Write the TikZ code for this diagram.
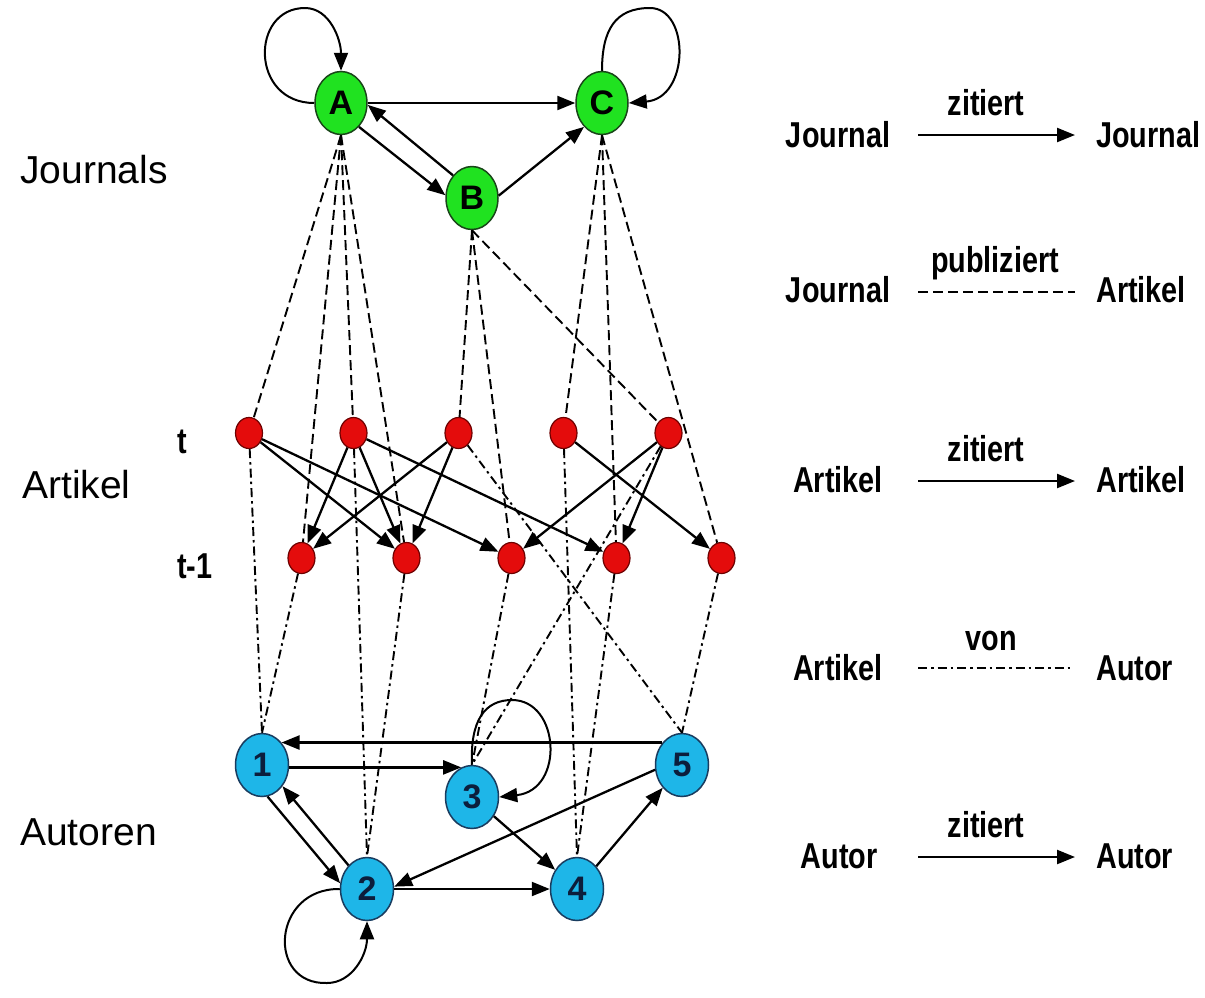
\documentclass[tikz,border=0pt]{standalone}
\usepackage{fontspec}
\setmainfont{Liberation Sans}
\newfontfamily\nbfont{Liberation Sans}[FakeStretch=0.8]
\usetikzlibrary{arrows.meta,shapes.geometric}
\definecolor{jgreen}{RGB}{32,226,32}
\definecolor{jborder}{RGB}{25,70,25}
\definecolor{rfill}{RGB}{228,12,12}
\definecolor{rborder}{RGB}{110,0,0}
\definecolor{bfill}{RGB}{30,182,232}
\definecolor{bborder}{RGB}{25,60,95}
\definecolor{btext}{RGB}{12,30,60}
\begin{document}
\begin{tikzpicture}[x=1pt,y=-1pt,
  jn/.style={ellipse, draw=jborder, line width=1.5pt, fill=jgreen, minimum width=52pt, minimum height=63pt, inner sep=0pt, font=\fontsize{34}{34}\selectfont\bfseries},
  an/.style={ellipse, draw=rborder, line width=1.2pt, fill=rfill, minimum width=27pt, minimum height=31pt, inner sep=0pt},
  un/.style={ellipse, draw=bborder, line width=1.5pt, fill=bfill, minimum width=53pt, minimum height=63pt, inner sep=0pt, text=btext, font=\fontsize{34}{34}\selectfont\bfseries},
  cite/.style={-{Triangle[length=18pt,width=14pt]}, line width=2.3pt},
  loopedge/.style={-{Triangle[length=18pt,width=14pt]}, line width=2pt},
  pub/.style={line width=1.9pt, dash pattern=on 10pt off 5pt},
  auth/.style={line width=1.9pt, dash pattern=on 9pt off 4pt on 2.5pt off 4pt},
  lbl/.style={font=\fontsize{39}{39}\selectfont, anchor=base west, inner sep=0pt},
  leg/.style={font=\nbfont\bfseries\fontsize{36}{36}\selectfont, inner sep=0pt},
]
\fill[white] (0,0) rectangle (1205,997);
\useasboundingbox (0,0) rectangle (1205,997);

% left labels
\node[lbl] (lj) at (20,183) {Journals};
\node[lbl] (la) at (22,498) {Artikel};
\node[lbl] (lau) at (20,845) {Autoren};
\node[leg, anchor=base west] (lt) at (177,453) {t};
\node[leg, anchor=base west] (lt1) at (177,578) {t-1};

% journals
\node[jn] (A) at (341,103) {A};
\node[jn] (B) at (472,198) {B};
\node[jn] (C) at (602,103) {C};

% articles
\foreach \i/\x in {1/249,2/353.5,3/458.5,4/563.5,5/668.5}
  \node[an] (r\i) at (\x,433) {};
\foreach \i/\x in {1/301.5,2/406.5,3/511.5,4/616.5,5/721.5}
  \node[an] (s\i) at (\x,558) {};

% authors
\node[un] (au1) at (262,765) {1};
\node[un] (au2) at (367,889) {2};
\node[un] (au3) at (472,797) {3};
\node[un] (au4) at (577,889) {4};
\node[un] (au5) at (682,765) {5};

% journal citations
\draw[loopedge] (A.west) .. controls (250,103) and (250,8) .. (305,8) .. controls (330,8) and (341,40) .. (A.north);
\draw[loopedge] (C.north) .. controls (602,30) and (615,8) .. (650,8) .. controls (690,8) and (690,98) .. (C.east);
\draw[cite] (A) -- (C);
\draw[cite] (A.-53) -- (B.174);
\draw[cite] (B.130) -- (A.-4);
\draw[cite] (B.5) -- (C.-127);

% publiziert
\foreach \t in {r1,r2,s1,s2} \draw[pub] (A.south) -- (\t);
\foreach \t in {r3,s3,r5} \draw[pub] (B.south) -- (\t);
\foreach \t in {r4,s4,s5} \draw[pub] (C.south) -- (\t);

% article citations
\draw[cite] (r1) -- (s2);
\draw[cite] (r1) -- (s3);
\draw[cite] (r2) -- (s1);
\draw[cite] (r2) -- (s2);
\draw[cite] (r2) -- (s4);
\draw[cite] (r3) -- (s1);
\draw[cite] (r3) -- (s2);
\draw[cite] (r4) -- (s5);
\draw[cite] (r5) -- (s3);
\draw[cite] (r5) -- (s4);

% von
\draw[auth] (r1) -- (au1.north);
\draw[auth] (s1) -- (au1.north);
\draw[auth] (r2) -- (au2.north);
\draw[auth] (s2) -- (au2.north);
\draw[auth] (s3) -- (au3.north);
\draw[auth] (r5) -- (au3.north);
\draw[auth] (r4) -- (au4.north);
\draw[auth] (s4) -- (au4.north);
\draw[auth] (r3) -- (au5.north);
\draw[auth] (s5) -- (au5.north);

% author citations
\draw[cite] (au5.131) -- (au1.49);
\draw[cite] (au1.east |- au3.110) -- (au3.110);
\draw[cite] (au1.-80) -- (au2.168);
\draw[cite] (au2.128) -- (au1.-46);
\draw[cite] (au3) -- (au4);
\draw[cite] (au2) -- (au4);
\draw[cite] (au4) -- (au5);
\draw[cite] (au5.190) -- (au2.5);
\draw[loopedge] (au3.north) .. controls (470,720) and (485,700) .. (512,700) .. controls (560,700) and (565,790) .. (au3.east);
\draw[loopedge] (au2.west) .. controls (272,888) and (266,985) .. (327,983) .. controls (352,983) and (367,955) .. (au2.south);

% legend
\node[leg, anchor=base] (g1a) at (838,147) {Journal};
\node[leg, anchor=base west] (g1b) at (1096,147) {Journal};
\node[leg, anchor=base] (g1c) at (986,115) {zitiert};
\coordinate (g1s) at (918,135); \coordinate (g1e) at (1075,135);
\draw[cite] (g1s) -- (g1e);

\node[leg, anchor=base] (g2a) at (838,302) {Journal};
\node[leg, anchor=base west] (g2b) at (1096,302) {Artikel};
\node[leg, anchor=base] (g2c) at (995,272) {publiziert};
\coordinate (g2s) at (918,292); \coordinate (g2e) at (1075,292);
\draw[pub] (g2s) -- (g2e);

\node[leg, anchor=base] (g3a) at (838,492) {Artikel};
\node[leg, anchor=base west] (g3b) at (1096,492) {Artikel};
\node[leg, anchor=base] (g3c) at (986,461) {zitiert};
\coordinate (g3s) at (918,481); \coordinate (g3e) at (1075,481);
\draw[cite] (g3s) -- (g3e);

\node[leg, anchor=base] (g4a) at (838,680) {Artikel};
\node[leg, anchor=base west] (g4b) at (1096,680) {Autor};
\node[leg, anchor=base] (g4c) at (991,650) {von};
\coordinate (g4s) at (918,668); \coordinate (g4e) at (1072,668);
\draw[auth] (g4s) -- (g4e);

\node[leg, anchor=base] (g5a) at (839,868) {Autor};
\node[leg, anchor=base west] (g5b) at (1096,868) {Autor};
\node[leg, anchor=base] (g5c) at (986,837) {zitiert};
\coordinate (g5s) at (918,857); \coordinate (g5e) at (1075,857);
\draw[cite] (g5s) -- (g5e);
\end{tikzpicture}
\end{document}
